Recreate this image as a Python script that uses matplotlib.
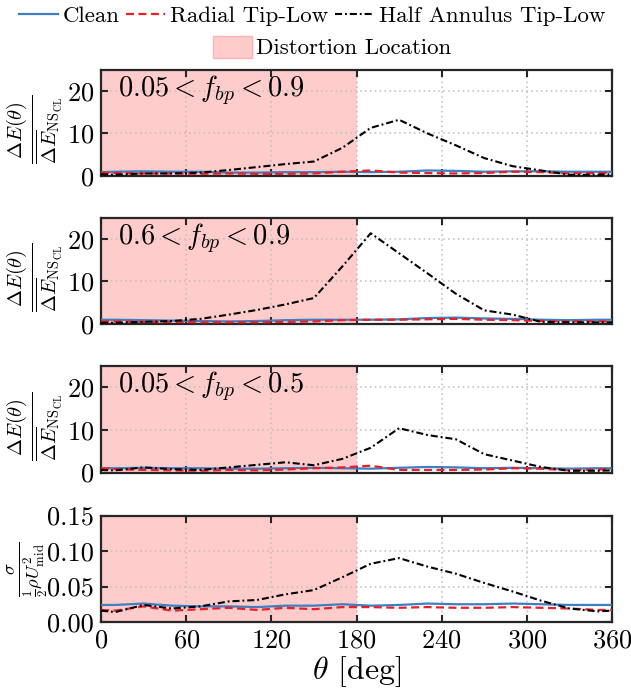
import matplotlib
matplotlib.use("Agg")
import matplotlib.pyplot as plt
from matplotlib.lines import Line2D
from matplotlib.patches import Patch
from matplotlib.ticker import FormatStrFormatter

plt.rcParams['font.family'] = 'serif'
plt.rcParams['font.serif'] = ['cmr10', 'DejaVu Serif']
plt.rcParams['mathtext.fontset'] = 'cm'
plt.rcParams['axes.formatter.use_mathtext'] = True

# ---------------- data ----------------
theta = [0, 10, 30, 50, 70, 90, 110, 130, 150, 170, 190, 210, 230, 250, 270, 290, 310, 330, 350, 360]

clean_1 = [0.9, 1.0, 1.1, 1.0, 1.0, 0.8, 0.8, 0.9, 0.9, 1.0, 0.9, 1.0, 1.3, 1.2, 1.0, 1.1, 1.1, 1.0, 1.0, 1.0]
radial_1 = [0.8, 0.7, 0.6, 0.6, 0.5, 0.6, 0.5, 0.5, 0.6, 1.0, 1.3, 0.8, 0.7, 0.6, 0.7, 1.0, 0.9, 0.6, 0.7, 0.7]
half_1 = [0.4, 0.3, 0.6, 0.6, 0.8, 1.4, 2.1, 2.8, 3.4, 6.6, 11.3, 13.2, 10.0, 7.2, 4.2, 2.3, 1.3, 0.3, 0.3, 0.4]

clean_2 = [1.0, 1.0, 0.9, 0.8, 0.7, 0.6, 0.7, 0.9, 1.0, 1.0, 1.0, 1.1, 1.4, 1.5, 1.3, 1.2, 1.0, 0.9, 1.0, 1.0]
radial_2 = [0.6, 0.6, 0.5, 0.5, 0.4, 0.4, 0.4, 0.5, 0.6, 0.9, 1.0, 1.0, 1.1, 1.2, 1.0, 0.9, 0.7, 0.6, 0.6, 0.6]
half_2 = [0.3, 0.3, 0.5, 0.7, 1.2, 2.2, 3.3, 4.6, 6.1, 13.5, 21.3, 16.6, 11.9, 7.1, 3.2, 2.2, 0.5, 0.4, 0.4, 0.4]

clean_3 = [1.0, 1.0, 1.1, 1.0, 1.0, 0.9, 0.9, 1.0, 1.1, 1.0, 0.9, 1.1, 1.3, 1.2, 1.0, 1.1, 1.0, 0.9, 1.0, 1.0]
radial_3 = [1.0, 0.8, 0.6, 0.5, 0.4, 0.6, 0.5, 0.7, 1.0, 1.2, 1.6, 0.6, 0.6, 0.6, 0.7, 1.0, 0.9, 0.5, 0.7, 0.8]
half_3 = [0.6, 0.5, 1.2, 0.8, 0.6, 1.2, 1.8, 2.4, 1.7, 3.2, 5.8, 10.4, 8.8, 7.8, 4.3, 2.8, 1.3, 0.4, 0.4, 0.5]

clean_4 = [0.024, 0.024, 0.026, 0.023, 0.022, 0.022, 0.021, 0.023, 0.023, 0.025, 0.023, 0.024, 0.026, 0.025, 0.025, 0.026, 0.025, 0.024, 0.024, 0.024]
radial_4 = [0.017, 0.016, 0.022, 0.016, 0.018, 0.020, 0.017, 0.020, 0.018, 0.021, 0.021, 0.020, 0.021, 0.020, 0.020, 0.021, 0.020, 0.019, 0.017, 0.017]
half_4 = [0.016, 0.014, 0.024, 0.019, 0.022, 0.029, 0.031, 0.039, 0.045, 0.063, 0.082, 0.090, 0.078, 0.068, 0.055, 0.043, 0.030, 0.019, 0.015, 0.016]

series_labels = ['Clean', 'Radial Tip-Low', 'Half Annulus Tip-Low']
patch_label = 'Distortion Location'
panel_texts = [r'$0.05 < f_{bp} < 0.9$', r'$0.6 < f_{bp} < 0.9$', r'$0.05 < f_{bp} < 0.5$', None]
x_ticks = [0, 60, 120, 180, 240, 300, 360]
distortion_span = (0, 180)

panels = [
    (clean_1, radial_1, half_1),
    (clean_2, radial_2, half_2),
    (clean_3, radial_3, half_3),
    (clean_4, radial_4, half_4),
]

# ---------------- styling ----------------
W, H = 631, 692
fig = plt.figure(figsize=(W / 100, H / 100), dpi=100)

blue = '#3d7fc1'
red = '#ea1f27'
black = '#000000'
shade = '#ffcccc'
frame_col = '#262626'

left_px, right_px = 101, 612
tops = [69.5, 217.5, 366, 515.5]
hgt = 106.5

e_label = r'$\frac{\Delta E(\theta)}{\overline{\Delta E}_{\mathrm{NS}_{\mathrm{CL}}}}$'
s_label = r'$\frac{\sigma}{\frac{1}{2}\rho U^2_{\mathrm{mid}}}$'

axes = []
for i, (c, r, h) in enumerate(panels):
    ax = fig.add_axes([left_px / W, 1 - (tops[i] + hgt) / H, (right_px - left_px) / W, hgt / H])
    axes.append(ax)
    ax.axvspan(*distortion_span, facecolor=shade, edgecolor='none', zorder=0.8)
    ax.plot(theta, c, color=blue, lw=1.6, zorder=3)
    ax.plot(theta, r, color=red, lw=1.6, dashes=(3.6, 2.0), zorder=3)
    ax.plot(theta, h, color=black, lw=1.5, dashes=(3.4, 1.4, 0.9, 1.4), zorder=4)
    ax.set_xlim(0, 360)
    ax.set_xticks(x_ticks)
    ax.set_axisbelow('line')
    ax.grid(True, linestyle=(0, (1, 2.2)), color='#bdbdbd', lw=1.1)
    for s in ax.spines.values():
        s.set_color(frame_col)
        s.set_linewidth(1.6)
    ax.tick_params(direction='in', length=5, width=1.5, colors=frame_col, labelcolor='black',
                   top=True, right=True, labelsize=19, pad=5)
    if i < 3:
        ax.set_ylim(0, 25)
        ax.set_yticks([0, 10, 20])
        ax.tick_params(labelbottom=False)
        ax.set_ylabel(e_label, fontsize=21)
        ax.yaxis.set_label_coords(-0.072, 0.44)
        ax.text(0.033, 0.965, panel_texts[i], transform=ax.transAxes, ha='left', va='top',
                fontsize=20.5, zorder=6)
    else:
        ax.set_ylim(0, 0.15)
        ax.set_yticks([0, 0.05, 0.10, 0.15])
        ax.yaxis.set_major_formatter(FormatStrFormatter('%.2f'))
        ax.set_ylabel(s_label, fontsize=19)
        ax.yaxis.set_label_coords(-0.1, 0.5)
        ax.set_xlabel(r'$\theta$ [deg]', fontsize=23, labelpad=1)

# legends
handles = [
    Line2D([], [], color=blue, lw=1.6),
    Line2D([], [], color=red, lw=1.6, dashes=(3.6, 2.0)),
    Line2D([], [], color=black, lw=1.5, dashes=(3.4, 1.4, 0.9, 1.4)),
]
fig.legend(handles, series_labels, loc='center', bbox_to_anchor=(312 / W, 1 - 16 / H),
           ncol=3, frameon=False, fontsize=16.5, handlelength=1.7, handletextpad=0.2,
           columnspacing=0.3, borderpad=0, borderaxespad=0)
fig.legend([Patch(facecolor=shade, edgecolor='#ffb3b3')], [patch_label], loc='center',
           bbox_to_anchor=(332 / W, 1 - 47 / H), frameon=False, fontsize=16.5,
           handlelength=1.7, handleheight=1.1, handletextpad=0.2, borderpad=0, borderaxespad=0)

fig.savefig('out.png', dpi=100)
